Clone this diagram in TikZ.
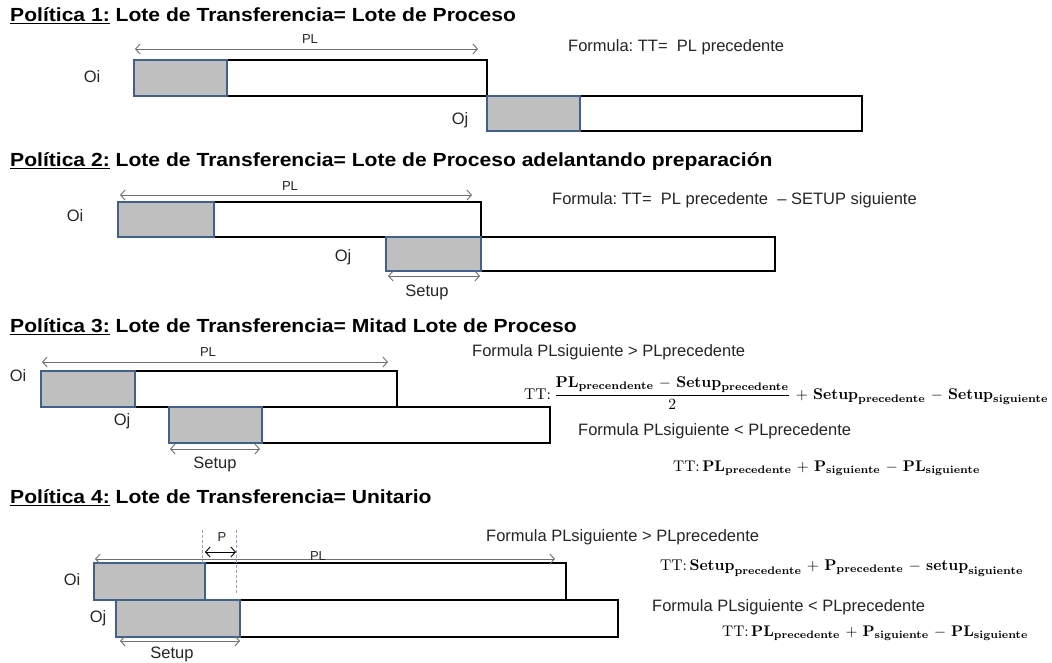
\documentclass[tikz,border=0pt]{standalone}
\usepackage[no-math]{fontspec}
\setmainfont{Liberation Sans}
\usepackage{amsmath}
\usepackage{graphicx}
\usetikzlibrary{arrows.meta}
\definecolor{gfill}{HTML}{BFBFBF}
\definecolor{gedge}{HTML}{41608C}
\definecolor{dimc}{HTML}{6F6F6F}
\definecolor{txt}{HTML}{262626}
\definecolor{dashc}{HTML}{8CA6D0}
\newcommand\bw[1]{\mathbf{#1}}
\newcommand\hd[1]{\scalebox{1.11}[1]{#1}}
\tikzset{
  wbox/.style={draw=black, fill=white, line width=2.2pt},
  gbox/.style={draw=gedge, fill=gfill, line width=1.8pt},
  dimarrow/.style={draw=dimc, line width=0.9pt, {Straight Barb[length=4.5pt,width=10pt]}-{Straight Barb[length=4.5pt,width=10pt]}},
  lbl/.style={font=\fontsize{16.5}{18}\selectfont, text=txt, inner sep=0pt},
  flbl/.style={lbl, anchor=west},
  small/.style={font=\fontsize{13}{15}\selectfont, text=txt, inner sep=0pt},
  head/.style={font=\fontsize{19}{22}\selectfont\bfseries, text=black, inner sep=0pt, anchor=base west},
  frm/.style={text=black, inner sep=0pt, anchor=west, execute at begin node={\medmuskip=6mu plus 2mu minus 2mu}},
  dline/.style={draw=dashc, dashed, line width=0.7pt, dash pattern=on 3pt off 2pt},
}
\begin{document}
\begin{tikzpicture}[x=1pt,y=-1pt]
\useasboundingbox[fill=white] (0,0) rectangle (1052,662);

% ---------------- Politica 1
\node[head] (h1) at (10,21) {\hd{\underline{Política 1:} Lote de Transferencia= Lote de Proceso}};
\draw[wbox] (227,60) rectangle (487,96);
\draw[wbox] (580,96) rectangle (862,131);
\draw[gbox] (134,60) rectangle (227,96);
\draw[gbox] (487,96) rectangle (580,131);
\coordinate (p1a) at (135,49); \coordinate (p1b) at (478,49);
\draw[dimarrow] (p1a) -- (p1b);
\node[small] (p1pl) at (310,39) {PL};
\node[lbl] (p1oi) at (92,77) {Oi};
\node[lbl] (p1oj) at (460,120) {Oj};
\node[flbl] (p1f) at (568,47) {Formula:\ TT=\ \ PL precedente};

% ---------------- Politica 2
\node[head] (h2) at (10,166) {\hd{\underline{Política 2:} Lote de Transferencia= Lote de Proceso adelantando preparación}};
\draw[wbox] (214,202) rectangle (481,237);
\draw[wbox] (481,237) rectangle (775,271);
\draw[gbox] (118,202) rectangle (214,237);
\draw[gbox] (386,237) rectangle (481,271);
\coordinate (p2a) at (120,195); \coordinate (p2b) at (472,195);
\draw[dimarrow] (p2a) -- (p2b);
\node[small] (p2pl) at (290,186) {PL};
\coordinate (p2sa) at (388,276); \coordinate (p2sb) at (480,276);
\draw[dimarrow] (p2sa) -- (p2sb);
\node[lbl] (p2su) at (427,292) {Setup};
\node[lbl] (p2oi) at (75,216) {Oi};
\node[lbl] (p2oj) at (343,257) {Oj};
\node[flbl] (p2f) at (552,200) {Formula:\ TT=\ \ PL precedente \ – SETUP siguiente};

% ---------------- Politica 3
\node[head] (h3) at (10,332) {\hd{\underline{Política 3:} Lote de Transferencia= Mitad Lote de Proceso}};
\draw[wbox] (135,371) rectangle (397,407);
\draw[wbox] (262,407) rectangle (550,443);
\draw[gbox] (41,371) rectangle (135,407);
\draw[gbox] (169,407) rectangle (262,443);
\coordinate (p3a) at (42,362); \coordinate (p3b) at (388,362);
\draw[dimarrow] (p3a) -- (p3b);
\node[small] (p3pl) at (208,352) {PL};
\coordinate (p3sa) at (170,449); \coordinate (p3sb) at (260,449);
\draw[dimarrow] (p3sa) -- (p3sb);
\node[lbl] (p3su) at (215,464) {Setup};
\node[lbl] (p3oi) at (18,376) {Oi};
\node[lbl] (p3oj) at (122,421) {Oj};
\node[flbl] (p3f1) at (472,352) {Formula PLsiguiente > PLprecedente};
\node[frm] (p3t1) at (524,393) {\resizebox{524pt}{!}{$\displaystyle \mathrm{TT}{:}\,\frac{\bw{PL}_{\bw{precendente}} - \bw{Setup}_{\bw{precedente}}}{2} + \bw{Setup}_{\bw{precedente}} - \bw{Setup}_{\bw{siguiente}}$}};
\node[flbl] (p3f2) at (578,431) {Formula PLsiguiente < PLprecedente};
\node[frm] (p3t2) at (673,468) {\resizebox{307pt}{!}{$\mathrm{TT}{:}\,\bw{PL}_{\bw{precedente}} + \bw{P}_{\bw{siguiente}} - \bw{PL}_{\bw{siguiente}}$}};

% ---------------- Politica 4
\node[head] (h4) at (10,503) {\hd{\underline{Política 4:} Lote de Transferencia= Unitario}};
\draw[wbox] (205,563) rectangle (566,600);
\draw[wbox] (240,600) rectangle (618,637);
\draw[gbox] (94,563) rectangle (205,600);
\draw[gbox] (116,600) rectangle (240,637);
\coordinate (d1a) at (202,530); \coordinate (d1b) at (202,565);
\coordinate (d2a) at (236,530); \coordinate (d2b) at (236,594);
\draw[dline] (d1a) -- (d1b);
\draw[dline] (d2a) -- (d2b);
\coordinate (p4a) at (95,559); \coordinate (p4b) at (555,559);
\draw[dimarrow] (p4a) -- (p4b);
\node[small] (p4pl) at (318,556) {PL};
\coordinate (p4pa) at (205,552); \coordinate (p4pb) at (236,552);
\draw[dimarrow, draw=black] (p4pa) -- (p4pb);
\node[small] (p4p) at (222,537) {P};
\coordinate (p4sa) at (120,641); \coordinate (p4sb) at (240,641);
\draw[dimarrow] (p4sa) -- (p4sb);
\node[lbl] (p4su) at (172,654) {Setup};
\node[lbl] (p4oi) at (72,580) {Oi};
\node[lbl] (p4oj) at (98,618) {Oj};
\node[flbl] (p4f1) at (486,537) {Formula PLsiguiente > PLprecedente};
\node[frm] (p4t1) at (660,568) {\resizebox{363pt}{!}{$\mathrm{TT}{:}\,\bw{Setup}_{\bw{precedente}} + \bw{P}_{\bw{precedente}} - \bw{setup}_{\bw{siguiente}}$}};
\node[flbl] (p4f2) at (652,607) {Formula PLsiguiente < PLprecedente};
\node[frm] (p4t2) at (722,633) {\resizebox{306pt}{!}{$\mathrm{TT}{:}\,\bw{PL}_{\bw{precedente}} + \bw{P}_{\bw{siguiente}} - \bw{PL}_{\bw{siguiente}}$}};
\end{tikzpicture}
\end{document}
